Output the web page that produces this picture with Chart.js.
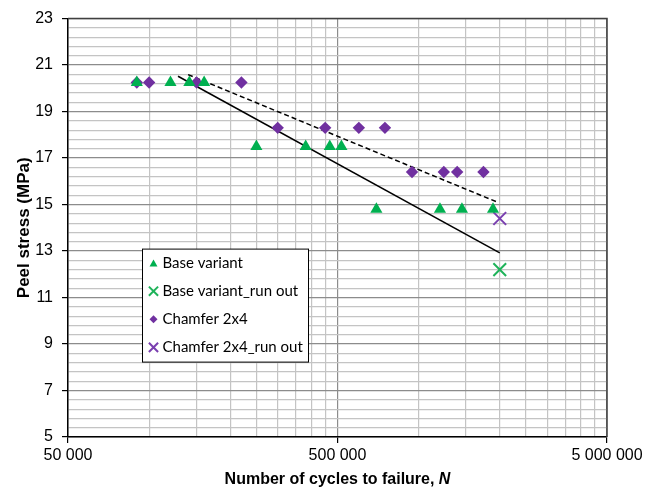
<!DOCTYPE html>
<html><head><meta charset="utf-8">
<script src="https://cdn.jsdelivr.net/npm/chart.js@4.4.1/dist/chart.umd.min.js"></script>
<style>html,body{margin:0;padding:0;background:#fff}canvas{display:block}</style>
</head><body>
<canvas id="c" width="661" height="495"></canvas>
<script>
// ---- data ----
const baseN = [90000, 120000, 141000, 160000, 250000, 381000, 468000, 517000, 697000, 1200000, 1448000, 1888000];
const baseStress = [20.25, 20.25, 20.25, 20.25, 17.5, 17.5, 17.5, 17.5, 14.8, 14.8, 14.8, 14.8];
const baseRunOutN = [2000000];
const baseRunOutStress = [12.2];
const chamferN = [90000, 100000, 150000, 220000, 300000, 450000, 600000, 750000, 945000, 1240000, 1390000, 1740000];
const chamferStress = [20.25, 20.25, 20.25, 20.25, 18.3, 18.3, 18.3, 18.3, 16.4, 16.4, 16.4, 16.4];
const chamferRunOutN = [2000000];
const chamferRunOutStress = [14.4];
const baseTrendN = [128000, 2000000];
const baseTrendStress = [20.52, 12.92];
const chamferTrendN = [139500, 1944000];
const chamferTrendStress = [20.59, 15.12];

// ---- axis ticks ----
const xTickLabels = [50000, 500000, 5000000];
const xGridValues = [50000, 100000, 150000, 200000, 250000, 300000, 350000, 400000, 450000,
  500000, 1000000, 1500000, 2000000, 2500000, 3000000, 3500000, 4000000, 4500000, 5000000];
const yTickLabels = [5, 7, 9, 11, 13, 15, 17, 19, 21, 23];
const yMinorStep = 0.4;

const GREEN = '#00b050';
const PURPLE = '#7030a0';
const FONT = "'Liberation Sans', Arial, sans-serif";

function pts(xs, ys) { return xs.map((x, i) => ({ x: x, y: ys[i] })); }
function fmt(n) { return String(n).replace(/\B(?=(\d{3})+(?!\d))/g, ' '); }

const yGridValues = [];
for (let k = 0; k <= Math.round((yTickLabels[yTickLabels.length - 1] - yTickLabels[0]) / yMinorStep); k++) {
  yGridValues.push(Math.round((yTickLabels[0] + k * yMinorStep) * 10) / 10);
}
const isYMajor = v => yTickLabels.some(t => Math.abs(t - v) < 1e-6);
const isXMajor = v => xTickLabels.includes(v);

const datasets = [
  { label: 'Base variant', data: pts(baseN, baseStress), pointStyle: 'triangle', pointRadius: 7,
    backgroundColor: GREEN, borderColor: GREEN, borderWidth: 0, legendRadius: 4.6 },
  { label: 'Base variant_run out', data: pts(baseRunOutN, baseRunOutStress), pointStyle: 'crossRot', pointRadius: 9,
    backgroundColor: GREEN, borderColor: '#1fb35a', borderWidth: 2, legendRadius: 6.5 },
  { label: 'Chamfer 2x4', data: pts(chamferN, chamferStress), pointStyle: 'rectRot', pointRadius: 6.2,
    backgroundColor: PURPLE, borderColor: PURPLE, borderWidth: 0, legendRadius: 4 },
  { label: 'Chamfer 2x4_run out', data: pts(chamferRunOutN, chamferRunOutStress), pointStyle: 'crossRot', pointRadius: 9,
    backgroundColor: PURPLE, borderColor: '#7a3fb0', borderWidth: 2, legendRadius: 6.5 },
  { label: 'trendBase', data: pts(baseTrendN, baseTrendStress), showLine: true, pointRadius: 0,
    borderColor: '#000', borderWidth: 1.5, isTrend: true },
  { label: 'trendChamfer', data: pts(chamferTrendN, chamferTrendStress), showLine: true, pointRadius: 0,
    borderColor: '#000', borderWidth: 1.5, borderDash: [5, 3], isTrend: true }
];

const framePlugin = {
  id: 'frame',
  afterDraw(chart) {
    const ctx = chart.ctx, a = chart.chartArea;
    ctx.save();
    // top & right frame
    ctx.strokeStyle = '#404040'; ctx.lineWidth = 1.5;
    ctx.beginPath();
    ctx.moveTo(a.left, a.top); ctx.lineTo(a.right, a.top); ctx.lineTo(a.right, a.bottom);
    ctx.stroke();
    // x title with italic N
    const t1 = 'Number of cycles to failure, ', t2 = 'N';
    const f1 = "bold 16px " + FONT, f2 = "italic bold 16px " + FONT;
    ctx.font = f1; const w1 = ctx.measureText(t1).width;
    ctx.font = f2; const w2 = ctx.measureText(t2).width;
    const cx = (a.left + a.right) / 2, ty = 480;
    let x0 = cx - (w1 + w2) / 2;
    ctx.fillStyle = '#000'; ctx.textBaseline = 'middle'; ctx.textAlign = 'left';
    ctx.font = f1; ctx.fillText(t1, x0, ty);
    ctx.font = f2; ctx.fillText(t2, x0 + w1, ty);
    // legend box
    const bx = a.left + 74.5, by = a.top + 230.5, bw = 166, bh = 113;
    ctx.fillStyle = '#fff'; ctx.fillRect(bx, by, bw, bh);
    ctx.strokeStyle = '#000'; ctx.lineWidth = 1; ctx.strokeRect(bx, by, bw, bh);
    const items = chart.data.datasets.filter(d => !d.isTrend);
    ctx.font = "15px Lato, 'Open Sans', sans-serif";
    items.forEach((d, i) => {
      const y = by + 14 + i * 28.1;
      const mx = bx + 11;
      const opts = { pointStyle: d.pointStyle, radius: d.legendRadius, rotation: 0,
        borderWidth: d.borderWidth, backgroundColor: d.backgroundColor, borderColor: d.borderColor };
      ctx.fillStyle = d.backgroundColor; ctx.strokeStyle = d.borderColor; ctx.lineWidth = d.borderWidth;
      Chart.helpers.drawPoint(ctx, opts, mx, d.pointStyle === 'triangle' ? y + 1 : y);
      ctx.fillStyle = '#000'; ctx.textBaseline = 'middle'; ctx.textAlign = 'left';
      ctx.fillText(d.label, bx + 20, y);
    });
    ctx.restore();
  }
};

new Chart(document.getElementById('c'), {
  type: 'scatter',
  data: { datasets: datasets },
  options: {
    responsive: false,
    animation: false,
    layout: { padding: { top: 13, right: 54, left: 0, bottom: 0 } },
    plugins: { legend: { display: false }, tooltip: { enabled: false } },
    scales: {
      x: {
        type: 'logarithmic', min: xTickLabels[0], max: xTickLabels[xTickLabels.length - 1],
        afterBuildTicks: s => { s.ticks = xGridValues.map(v => ({ value: v })); },
        afterFit: s => { s.height = 58; },
        ticks: { autoSkip: false, maxRotation: 0, minRotation: 0, padding: 3, color: '#000',
          font: { family: FONT, size: 16 },
          callback: v => isXMajor(v) ? fmt(v) : '' },
        grid: { color: c => (c.tick && isXMajor(c.tick.value)) ? '#8c8c8c' : '#c4c4c4',
          tickColor: c => (c.tick && isXMajor(c.tick.value)) ? '#000' : 'rgba(0,0,0,0)',
          tickLength: 6, lineWidth: 1.2 },
        border: { color: '#000', width: 1.5 },
        title: { display: false }
      },
      y: {
        type: 'linear', min: yTickLabels[0], max: yTickLabels[yTickLabels.length - 1],
        afterBuildTicks: s => { s.ticks = yGridValues.map(v => ({ value: v })); },
        afterFit: s => { s.width = 68; },
        ticks: { autoSkip: false, padding: 9, color: '#000', font: { family: FONT, size: 16 },
          callback: v => isYMajor(v) ? String(Math.round(v)) : '' },
        grid: { color: c => (c.tick && isYMajor(c.tick.value)) ? '#8c8c8c' : '#c4c4c4',
          tickColor: c => (c.tick && isYMajor(c.tick.value)) ? '#000' : 'rgba(0,0,0,0)',
          tickLength: 6, lineWidth: 1.2 },
        border: { color: '#000', width: 1.5 },
        title: { display: true, text: 'Peel stress (MPa)', color: '#000',
          font: { family: FONT, size: 17, weight: 'bold' }, padding: { top: 14, bottom: 0 } }
      }
    }
  },
  plugins: [framePlugin]
});
</script>
</body></html>
